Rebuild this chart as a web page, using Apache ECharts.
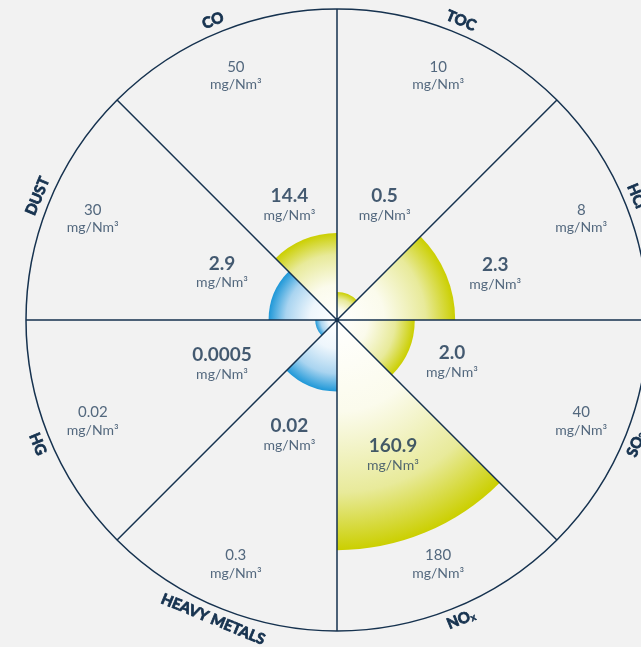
<!DOCTYPE html>
<html>
<head>
<meta charset="utf-8">
<style>
  html, body { margin: 0; padding: 0; background: #f2f2f2; }
  #chart { width: 641px; height: 647px; }
</style>
<script src="https://cdn.jsdelivr.net/npm/echarts@6/dist/echarts.min.js"></script>
</head>
<body>
<div id="chart"></div>
<script>
// data, clockwise from the top-left sector
const categories = ["CO", "TOC", "HCl", "SO2", "NOx", "HEAVY METALS", "HG", "DUST"];
const categoryTitles = ["{t|CO}", "{t|TOC}", "{t|HCl}", "{t|SO}{sub|2}", "{t|NO}{sub|x}", "{t|HEAVY METALS}", "{t|HG}", "{t|DUST}"];
const limitValues = ["50", "10", "8", "40", "180", "0.3", "0.02", "30"];
const measuredValues = ["14.4", "0.5", "2.3", "2.0", "160.9", "0.02", "0.0005", "2.9"];
// wedge length, % of the circle radius
const wedgeSize = [28, 9, 38, 25, 74, 23, 7, 22];
const wedgeGroup = ["yellow", "yellow", "yellow", "yellow", "yellow", "blue", "blue", "blue"];

const navy = "#16324f";
const center = [337, 320];
const radius = 311;
const font = "Lato, 'Noto Sans', sans-serif";

// label placement tweaks (radius in %, pixel offset)
const valueRadius = { HCl: 53, NOx: 47 };
const valueOffset = { HCl: [6, 17], SO2: [0, -6], HG: [0, -4] };

const gradients = {
    yellow: ["#ffffff", "#fbfbec", "#e8ea9a", "#cbcf00"],
    blue: ["#ffffff", "#eef6fc", "#a9d4f0", "#1f98d8"]
};

function wedgeColor(i)
{
    const c = gradients[wedgeGroup[i]];
    return {
        type: "radial",
        x: center[0],
        y: center[1],
        r: radius * wedgeSize[i] / 100,
        global: true,
        colorStops: [
            { offset: 0, color: c[0] },
            { offset: 0.4, color: c[1] },
            { offset: 0.75, color: c[2] },
            { offset: 1, color: c[3] }
        ]
    };
}

const wedgeData = wedgeSize.map((v, i) => ({
    value: v,
    itemStyle: { color: wedgeColor(i) }
}));

const limitData = categories.map((c, i) => ({
    value: [85, i],
    label: { formatter: "{lim|" + limitValues[i] + "}\n{unit|mg/Nm³}" }
}));

const valueData = categories.map((c, i) => ({
    value: [valueRadius[c] || 40, i],
    label: {
        formatter: "{val|" + measuredValues[i] + "}\n{unit|mg/Nm³}",
        offset: valueOffset[c] || [0, 0]
    }
}));

const titleData = categoryTitles.map((t) => ({ value: 1, name: t }));

const textRich = {
    lim: { fontFamily: font, fontSize: 15, color: "#2b4560", lineHeight: 18 },
    val: { fontFamily: font, fontSize: 19, fontWeight: "bold", color: navy, lineHeight: 21 },
    unit: { fontFamily: font, fontSize: 14, color: "#2b4560", lineHeight: 18 }
};

const option = {
    backgroundColor: "#f2f2f2",
    animation: false,
    polar: { center: center, radius: radius },
    angleAxis: {
        type: "category",
        data: categories,
        startAngle: 135,
        clockwise: true,
        boundaryGap: true,
        z: 10,
        axisLine: { lineStyle: { color: navy, width: 1.5 } },
        axisTick: { show: false },
        axisLabel: { show: false },
        splitLine: { show: true, lineStyle: { color: navy, width: 1.5 } }
    },
    radiusAxis: { type: "value", min: 0, max: 100, show: false },
    series: [
        {
            type: "bar",
            coordinateSystem: "polar",
            data: wedgeData,
            barCategoryGap: "0%",
            silent: true
        },
        {
            type: "scatter",
            coordinateSystem: "polar",
            data: limitData,
            symbolSize: 1,
            itemStyle: { color: "rgba(0,0,0,0)" },
            label: { show: true, position: "inside", align: "center", rich: textRich },
            silent: true,
            z: 12
        },
        {
            type: "scatter",
            coordinateSystem: "polar",
            data: valueData,
            symbolSize: 1,
            itemStyle: { color: "rgba(0,0,0,0)" },
            label: { show: true, position: "inside", align: "center", rich: textRich },
            silent: true,
            z: 12
        },
        {
            type: "pie",
            center: center,
            radius: [radius, radius + 20],
            startAngle: 135,
            clockwise: true,
            silent: true,
            data: titleData,
            itemStyle: { color: "rgba(0,0,0,0)" },
            label: {
                show: true,
                position: "inside",
                rotate: "tangential",
                formatter: "{b}",
                rich: {
                    t: { fontFamily: font, fontSize: 15, fontWeight: "bold", color: navy,
                         textBorderColor: navy, textBorderWidth: 0.8 },
                    sub: { fontFamily: font, fontSize: 10, fontWeight: "bold", color: navy,
                           textBorderColor: navy, textBorderWidth: 0.5, padding: [6, 0, 0, 0] }
                }
            },
            labelLine: { show: false }
        }
    ]
};

const chart = echarts.init(document.getElementById("chart"));
chart.setOption(option);
</script>
</body>
</html>
